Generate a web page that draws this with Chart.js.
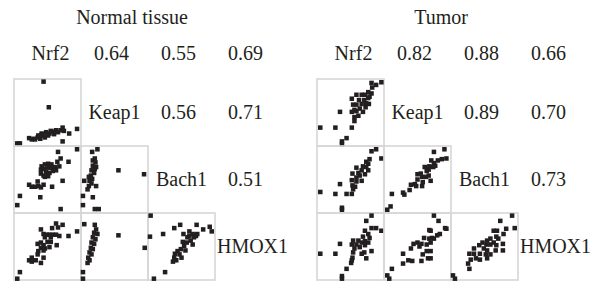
<!DOCTYPE html>
<html>
<head>
<meta charset="utf-8">
<script src="https://cdn.jsdelivr.net/npm/chart.js@4.4.0/dist/chart.umd.min.js"></script>
<style>
    body { margin: 0; background: #fff; }
    #page { position: relative; width: 602px; height: 281px; overflow: hidden; }
    .lbl { position: absolute; transform: translate(-50%, -50%); white-space: nowrap;
           font-family: 'Liberation Serif', 'Times New Roman', Tinos, 'DejaVu Serif', 'Noto Serif', serif;
           font-size: 20px; color: #231f20; }
    canvas { position: absolute; }
</style>
</head>
<body>
<div id="page"></div>
<script>
//  Data block (values in % of each small panel, x from left, y from bottom)
const genes = ['Nrf2', 'Keap1', 'Bach1', 'HMOX1'];
const panelTitles = ['Normal tissue', 'Tumor'];

//  correlations in the upper triangle: [Nrf2-Keap1, Nrf2-Bach1, Nrf2-HMOX1, Keap1-Bach1, Keap1-HMOX1, Bach1-HMOX1]
const normalCorr = ['0.64', '0.55', '0.69', '0.56', '0.71', '0.51'];
const tumorCorr  = ['0.82', '0.88', '0.66', '0.89', '0.70', '0.73'];

//  normal tissue scatter cells
const normalKeap1Nrf2 = [[44,97],[52,58],[4,3],[8,3],[22,11],[26,9],[29,10],[31,9],[35,12],[36,15],[39,10],[40,15],
    [41,18],[44,17],[46,12],[48,20],[51,15],[53,18],[55,22],[57,21],[60,17],[63,23],[66,20],[70,23],[73,27],[75,22],
    [83,18],[95,25],[73,6]];
const normalBach1Nrf2 = [[66,92],[95,96],[70,82],[65,77],[82,77],[41,70],[46,73],[51,74],[56,73],[40,65],[45,66],
    [50,68],[55,68],[61,69],[68,70],[40,59],[44,56],[48,61],[53,60],[58,63],[63,64],[46,54],[51,55],[73,48],[22,42],
    [26,39],[31,39],[35,47],[36,40],[40,38],[44,42],[57,39],[8,25],[39,23],[4,11],[70,5]];
const normalBach1Keap1 = [[16,92],[24,96],[20,82],[17,79],[21,76],[17,71],[22,69],[20,66],[15,64],[19,60],[14,56],
    [11,54],[16,51],[12,48],[15,44],[11,40],[9,35],[22,40],[4,48],[56,64],[95,58],[2,25],[17,23],[2,11],[20,5],[26,5]];
const normalHmox1Nrf2 = [[73,83],[66,79],[57,78],[63,85],[95,73],[82,66],[40,76],[44,69],[49,68],[53,68],[58,68],
    [63,68],[68,66],[55,64],[46,64],[40,56],[35,54],[44,52],[50,57],[55,57],[64,52],[40,48],[46,47],[53,49],[36,43],
    [44,44],[35,38],[26,33],[22,29],[26,27],[32,29],[40,25],[44,33],[8,11],[4,1]];
const normalHmox1Keap1 = [[4,84],[20,83],[22,76],[19,71],[24,69],[17,64],[21,61],[15,56],[19,54],[14,48],[17,46],
    [12,41],[15,38],[10,33],[12,29],[9,25],[56,67],[96,48],[2,11],[2,1]];
const normalHmox1Bach1 = [[3,97],[2,65],[22,69],[39,78],[48,83],[53,69],[62,73],[67,69],[72,66],[74,69],[69,64],
    [83,76],[93,80],[96,73],[73,83],[59,64],[64,59],[58,56],[52,57],[54,51],[49,46],[56,44],[44,43],[47,38],[40,39],
    [39,33],[37,27],[42,29],[50,33],[25,11],[8,1],[67,53],[62,66]];

//  tumor scatter cells
const tumorKeap1Nrf2 = [[97,96],[89,92],[82,95],[83,88],[77,81],[82,79],[72,77],[59,77],[67,77],[77,72],[71,69],
    [63,69],[52,71],[78,63],[67,63],[59,62],[54,62],[73,58],[64,56],[56,54],[52,51],[59,52],[69,51],[62,45],[56,43],
    [56,37],[34,51],[4,27],[27,27],[52,27],[44,11],[37,6],[37,2],[74,64],[79,74]];
const tumorBach1Nrf2 = [[89,96],[82,93],[97,82],[79,81],[74,77],[77,74],[69,70],[74,69],[59,68],[67,64],[77,64],
    [72,58],[64,56],[53,59],[59,53],[52,49],[67,48],[59,47],[53,41],[57,39],[54,35],[34,43],[4,31],[27,28],[44,28],
    [52,28],[37,7],[37,4],[62,60]];
const tumorBach1Keap1 = [[91,96],[75,92],[94,82],[87,81],[81,79],[71,79],[75,75],[61,69],[68,70],[74,69],[77,71],
    [67,65],[64,63],[55,59],[50,58],[67,56],[57,54],[63,54],[50,50],[70,48],[58,46],[46,43],[40,42],[48,40],[57,40],
    [38,34],[28,30],[30,27],[11,28],[9,9],[4,4]];
const tumorHmox1Nrf2 = [[82,97],[74,89],[89,78],[82,78],[97,74],[72,74],[77,69],[69,65],[79,63],[62,59],[72,58],
    [54,59],[67,56],[77,56],[59,53],[52,53],[72,52],[64,49],[56,47],[82,43],[71,41],[67,39],[54,41],[74,32],[53,33],
    [51,25],[52,29],[34,54],[4,39],[27,39],[44,16],[37,5],[37,1]];
const tumorHmox1Keap1 = [[75,97],[82,89],[92,78],[94,77],[70,74],[68,75],[84,69],[80,67],[60,63],[72,63],[68,62],
    [50,56],[44,54],[56,54],[70,56],[64,53],[53,50],[40,47],[64,43],[70,43],[58,38],[66,32],[70,32],[28,39],[36,29],
    [42,28],[56,28],[28,24],[11,16],[4,6],[7,1],[75,62]];
const tumorHmox1Bach1 = [[92,97],[74,89],[96,78],[83,77],[64,74],[69,74],[79,69],[68,65],[59,62],[71,62],[54,59],
    [47,56],[64,56],[78,54],[59,53],[53,53],[42,52],[68,52],[34,47],[49,47],[54,44],[67,44],[78,44],[27,39],[34,39],
    [43,39],[52,38],[59,38],[37,32],[43,30],[54,32],[29,30],[25,24],[27,16],[2,6],[5,1]];

//  [row, col, points] for each lower cell
const normalCells = [[1,0,normalKeap1Nrf2],[2,0,normalBach1Nrf2],[2,1,normalBach1Keap1],
                     [3,0,normalHmox1Nrf2],[3,1,normalHmox1Keap1],[3,2,normalHmox1Bach1]];
const tumorCells  = [[1,0,tumorKeap1Nrf2],[2,0,tumorBach1Nrf2],[2,1,tumorBach1Keap1],
                     [3,0,tumorHmox1Nrf2],[3,1,tumorHmox1Keap1],[3,2,tumorHmox1Bach1]];

//  Layout block
const CELL = 67;
const PAD = 5;
const panels = [
    { left: 14,  titleX: 132, title: panelTitles[0], corr: normalCorr, cells: normalCells },
    { left: 317, titleX: 441, title: panelTitles[1], corr: tumorCorr,  cells: tumorCells }
];

//  frame around each small plot
const frame = {
    id: 'frame',
    beforeDatasetsDraw(chart) {
        const { ctx, chartArea: { left, top, width, height } } = chart;
        ctx.save();
        ctx.strokeStyle = '#d6d6d6';
        ctx.lineWidth = 1.6;
        ctx.strokeRect(left, top, width, height);
        ctx.restore();
    }
};

const page = document.getElementById('page');

function addLabel(text, x, y) {
    const d = document.createElement('div');
    d.className = 'lbl';
    d.textContent = text;
    d.style.left = x + 'px';
    d.style.top = y + 'px';
    page.appendChild(d);
}

panels.forEach(function(p) {
    addLabel(p.title, p.titleX, 17);

    // diagonal names + upper triangle correlations
    let k = 0;
    for (let r = 0; r < 4; r++) {
        for (let c = r; c < 4; c++) {
            const cx = p.left + CELL * c + CELL / 2;
            const cy = (r === 0) ? 53 : 79 + CELL * (r - 1) + CELL / 2 - 1;
            if (r === c) addLabel(genes[r], cx + (r === 0 ? 3 : (r === 3 ? 4 : 0)), cy);
            else addLabel(p.corr[k++], cx - 3, cy);
        }
    }

    // scatter cells
    p.cells.forEach(function(cell) {
        const [r, c, pts] = cell;
        const cv = document.createElement('canvas');
        cv.width = CELL + 2 * PAD;
        cv.height = CELL + 2 * PAD;
        cv.style.left = (p.left + CELL * c - PAD) + 'px';
        cv.style.top = (79 + CELL * (r - 1) - PAD) + 'px';
        page.appendChild(cv);

        new Chart(cv, {
            type: 'scatter',
            data: {
                datasets: [{
                    data: pts.map(function(q) { return { x: q[0], y: q[1] }; }),
                    pointStyle: 'rect',
                    pointRadius: 3.2,
                    borderWidth: 0,
                    backgroundColor: '#231f20',
                    clip: false
                }]
            },
            options: {
                responsive: false,
                animation: false,
                devicePixelRatio: 1,
                layout: { padding: PAD },
                plugins: { legend: { display: false }, tooltip: { enabled: false } },
                scales: {
                    x: { display: false, min: -1, max: 101 },
                    y: { display: false, min: -1, max: 101 }
                }
            },
            plugins: [frame]
        });
    });
});
</script>
</body>
</html>
